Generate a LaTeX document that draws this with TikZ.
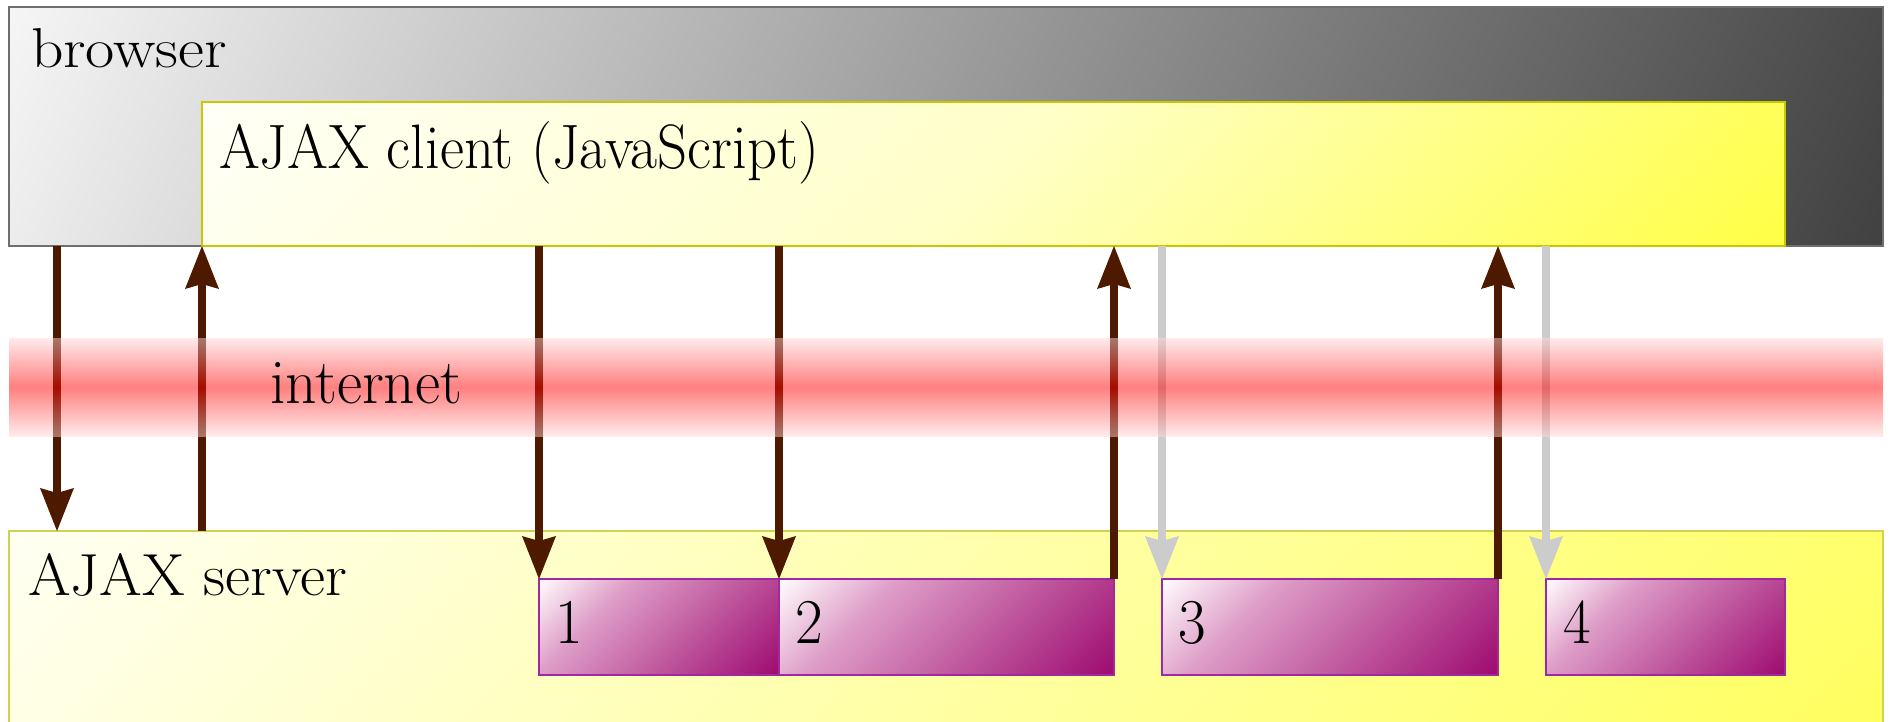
\documentclass[tikz,border=0pt]{standalone}
\usepackage{fontspec}
\usepackage{graphicx}
\usetikzlibrary{arrows.meta}
\definecolor{arrbrown}{RGB}{77,26,0}
\definecolor{arrgray}{RGB}{204,204,204}
\definecolor{brA}{RGB}{246,246,246}
\definecolor{brB}{RGB}{64,64,64}
\definecolor{brLine}{RGB}{110,110,110}
\definecolor{clA}{RGB}{255,255,246}
\definecolor{clM}{RGB}{255,255,200}
\definecolor{clB}{RGB}{255,255,70}
\definecolor{clLine}{RGB}{200,200,0}
\definecolor{svA}{RGB}{255,255,242}
\definecolor{svB}{RGB}{255,255,95}
\definecolor{svLine}{RGB}{210,210,80}
\definecolor{bxA}{RGB}{255,250,252}
\definecolor{bxM}{RGB}{222,158,200}
\definecolor{bxB}{RGB}{158,12,112}
\definecolor{bxLine}{RGB}{160,40,160}
\definecolor{bandEdge}{RGB}{255,215,215}
\pgfdeclarehorizontalshading{brshade}{100bp}{color(0bp)=(brA); color(17bp)=(brA); color(83bp)=(brB); color(100bp)=(brB)}
\pgfdeclarehorizontalshading{clshade}{100bp}{color(0bp)=(clA); color(15bp)=(clA); color(50bp)=(clM); color(85bp)=(clB); color(100bp)=(clB)}
\pgfdeclarehorizontalshading{svshade}{100bp}{color(0bp)=(svA); color(15bp)=(svA); color(85bp)=(svB); color(100bp)=(svB)}
\pgfdeclarehorizontalshading{bxshade}{100bp}{color(0bp)=(bxA); color(15bp)=(bxA); color(34bp)=(bxM); color(85bp)=(bxB); color(100bp)=(bxB)}
\newcommand{\labfont}{\fontsize{15.8}{19}\selectfont}
\begin{document}
\begin{tikzpicture}[x=0.1mm,y=-0.1mm,
  panel/.style={shape=rectangle, anchor=north west, inner sep=0pt, outer sep=0pt, line width=0.15mm},
  brpanel/.style={panel, shade, shading=brshade, shading angle=-22.6, draw=brLine},
  clpanel/.style={panel, shade, shading=clshade, shading angle=-45, draw=clLine},
  svpanel/.style={panel, shade, shading=svshade, shading angle=-45, draw=svLine},
  bxpanel/.style={panel, shade, shading=bxshade, shading angle=-45, draw=bxLine, minimum height=9.6mm},
  lab/.style={anchor=base west, inner sep=0pt, outer sep=0pt, font=\labfont, text=black},
  arr/.style={draw=arrbrown, line width=0.75mm, -{Stealth[length=4.3mm,width=3.4mm,inset=0.5mm,line width=0pt]}},
  garr/.style={draw=arrgray, line width=0.75mm, -{Stealth[length=4.3mm,width=3.4mm,inset=0.5mm,line width=0pt]}}]
\useasboundingbox (0,0) rectangle (1890,721);
% panels
\node[brpanel, minimum width=187.4mm, minimum height=23.9mm] (browser) at (9,7) {};
\node[clpanel, minimum width=158.3mm, minimum height=14.4mm] (client) at (202,102) {};
\node[svpanel, minimum width=187.4mm, minimum height=20mm] (server) at (9,531) {};
\node[bxpanel, minimum width=24mm] (b1) at (539,579) {};
\node[bxpanel, minimum width=33.5mm] (b2) at (779,579) {};
\node[bxpanel, minimum width=33.6mm] (b3) at (1162,579) {};
\node[bxpanel, minimum width=23.9mm] (b4) at (1546,579) {};
% labels
\node[lab] (tbrowser) at (31,67) {\resizebox{19.6mm}{3.9mm}{browser}};
\node[lab] (tclient) at (219,168) {\resizebox{60mm}{4.7mm}{AJAX client (JavaScript)}};
\node[lab] (tserver) at (28,595) {\resizebox{31.9mm}{4.2mm}{AJAX server}};
\node[lab] (t1) at (555,643) {\scalebox{1.08}[1.15]{1}};
\node[lab] (t2) at (795,643) {\scalebox{1.08}[1.15]{2}};
\node[lab] (t3) at (1178,643) {\scalebox{1.08}[1.15]{3}};
\node[lab] (t4) at (1563,643) {\scalebox{1.08}[1.15]{4}};
% connectors
\coordinate (p0) at (57,0);
\draw[arr] (p0 |- browser.south) -- (p0 |- server.north);
\draw[arr] (server.north -| client.south west) -- (client.south west);
\draw[arr] (b1.north west |- client.south) -- (b1.north west);
\draw[arr] (b2.north west |- client.south) -- (b2.north west);
\draw[arr] (b2.north east) -- (b2.north east |- client.south);
\draw[garr] (b3.north west |- client.south) -- (b3.north west);
\draw[arr] (b3.north east) -- (b3.north east |- client.south);
\draw[garr] (b4.north west |- client.south) -- (b4.north west);
% internet band
\shade[top color=bandEdge, bottom color=bandEdge, middle color=red, opacity=0.5] (9,338) rectangle (1883,436);
\node[lab] (tinternet) at (270,403) {\resizebox{19.2mm}{4.1mm}{internet}};
\end{tikzpicture}
\end{document}
